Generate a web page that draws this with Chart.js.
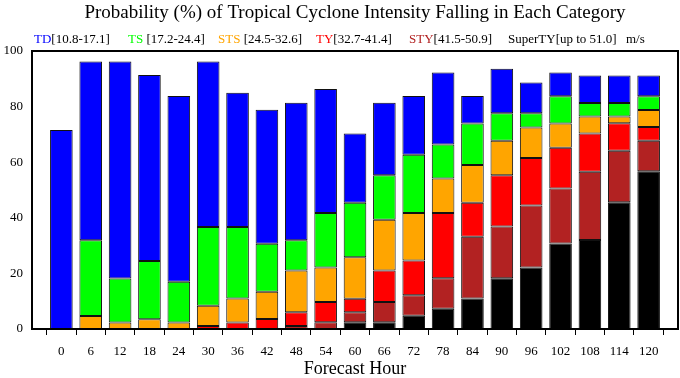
<!DOCTYPE html>
<html>
<head>
<meta charset="utf-8">
<script src="https://cdn.jsdelivr.net/npm/chart.js@4"></script>
<style>
  html, body { margin: 0; padding: 0; background: #fff; }
  #wrap { width: 680px; height: 378px; }
</style>
</head>
<body>
<div id="wrap"><canvas id="chart" width="680" height="378"></canvas></div>
<script>
const hours = [0, 6, 12, 18, 24, 30, 36, 42, 48, 54, 60, 66, 72, 78, 84, 90, 96, 102, 108, 114, 120];

// stacked from the bottom up
const superTY = [0, 0, 0, 0, 0, 0, 0, 0, 0, 0, 2.4, 2.4, 4.8, 7.3, 11.0, 18.3, 22.1, 30.8, 32.0, 45.6, 56.7];
const sty     = [0, 0, 0, 0, 0, 0, 0, 0, 1.1, 2.4, 3.6, 7.3, 7.3, 11.0, 22.2, 18.6, 22.3, 19.7, 24.6, 18.5, 11.0];
const ty      = [0, 0, 0, 0, 0, 1.1, 2.3, 3.6, 4.9, 7.3, 4.9, 11.3, 12.5, 23.4, 12.2, 18.4, 17.1, 14.7, 13.7, 9.9, 5.0];
const sts     = [0, 4.7, 2.3, 3.5, 2.3, 7.3, 8.7, 9.8, 15.0, 12.4, 14.9, 18.3, 17.1, 12.4, 13.6, 12.4, 11.0, 8.7, 6.1, 2.4, 6.1];
const ts      = [0, 27.2, 15.9, 21.0, 14.7, 28.3, 25.7, 17.3, 10.9, 19.6, 19.6, 16.0, 21.0, 12.3, 14.9, 9.9, 5.1, 9.8, 4.9, 4.9, 4.9];
const td      = [71.6, 64.3, 78.0, 66.9, 66.8, 59.5, 48.3, 48.2, 49.5, 44.6, 24.9, 26.1, 21.1, 25.9, 9.9, 16.0, 11.1, 8.6, 9.9, 9.9, 7.5];

const yTicks = [0, 20, 40, 60, 80, 100];

const legendNames  = ['TD', 'TS', 'STS', 'TY', 'STY', 'SuperTY'];
const legendRanges = ['[10.8-17.1]', ' [17.2-24.4]', ' [24.5-32.6]', '[32.7-41.4]', '[41.5-50.9]', '[up to 51.0]'];
const unitText = 'm/s';
const titleText = 'Probability (%) of Tropical Cyclone Intensity Falling in Each Category';
const xTitle = 'Forecast Hour';

const colors = {
  TD: '#0000ff', TS: '#00ff00', STS: '#ffa500', TY: '#ff0000', STY: '#b22222', SuperTY: '#000000'
};
const legendX = [34, 128, 218, 316, 409, 508];
const unitX = 626;

const serif = '"Liberation Serif", "DejaVu Serif", serif';

function series(label, vals) {
  return {
    label: label,
    data: hours.map((h, i) => ({ x: h, y: vals[i] })),
    backgroundColor: colors[label],
    borderColor: '#111',
    borderWidth: 1,
    borderSkipped: false,
    barPercentage: 0.77,
    categoryPercentage: 1.0
  };
}

const decor = {
  id: 'decor',
  afterDraw(chart) {
    const ctx = chart.ctx;
    const a = chart.chartArea;
    ctx.save();
    // frame
    ctx.strokeStyle = '#000';
    ctx.lineWidth = 2;
    ctx.strokeRect(a.left, a.top, a.right - a.left, a.bottom - a.top);
    // title
    ctx.fillStyle = '#000';
    ctx.font = '19px ' + serif;
    ctx.textAlign = 'center';
    ctx.textBaseline = 'middle';
    ctx.fillText(titleText, (a.left + a.right) / 2, 13);
    // legend row
    ctx.font = '13px ' + serif;
    ctx.textAlign = 'left';
    legendNames.forEach((n, i) => {
      let x = legendX[i];
      ctx.fillStyle = colors[n];
      ctx.fillText(n, x, 40);
      x += ctx.measureText(n).width;
      ctx.fillStyle = '#000';
      ctx.fillText(legendRanges[i], x, 40);
    });
    ctx.fillText(unitText, unitX, 40);
    ctx.restore();
  }
};

new Chart(document.getElementById('chart'), {
  type: 'bar',
  data: {
    datasets: [
      series('SuperTY', superTY),
      series('STY', sty),
      series('TY', ty),
      series('STS', sts),
      series('TS', ts),
      series('TD', td)
    ]
  },
  options: {
    responsive: false,
    animation: false,
    layout: { padding: { top: 51, right: 2, left: 0, bottom: 0 } },
    plugins: {
      legend: { display: false },
      title: { display: false },
      tooltip: { enabled: false }
    },
    scales: {
      x: {
        type: 'linear',
        stacked: true,
        min: -6,
        max: 126,
        offset: false,
        afterBuildTicks: s => { s.ticks = s.ticks.filter(t => t.value >= 0 && t.value <= 120); },
        afterFit: s => { s.height = 49; },
        ticks: {
          stepSize: 6,
          autoSkip: false,
          maxRotation: 0,
          color: '#000',
          padding: 9,
          font: { family: serif, size: 13 }
        },
        grid: { display: true, drawOnChartArea: false, drawTicks: true, tickLength: 6, color: '#000' },
        border: { display: false },
        title: {
          display: true,
          text: xTitle,
          color: '#000',
          padding: { top: 0, bottom: -2 },
          font: { family: serif, size: 18 }
        }
      },
      y: {
        stacked: true,
        min: 0,
        max: 100,
        afterBuildTicks: s => { s.ticks = yTicks.map(v => ({ value: v })); },
        afterFit: s => { s.width = 32; },
        ticks: {
          color: '#000',
          padding: 9,
          font: { family: serif, size: 13 }
        },
        grid: { display: false, drawTicks: false },
        border: { display: false }
      }
    }
  },
  plugins: [decor]
});
</script>
</body>
</html>
